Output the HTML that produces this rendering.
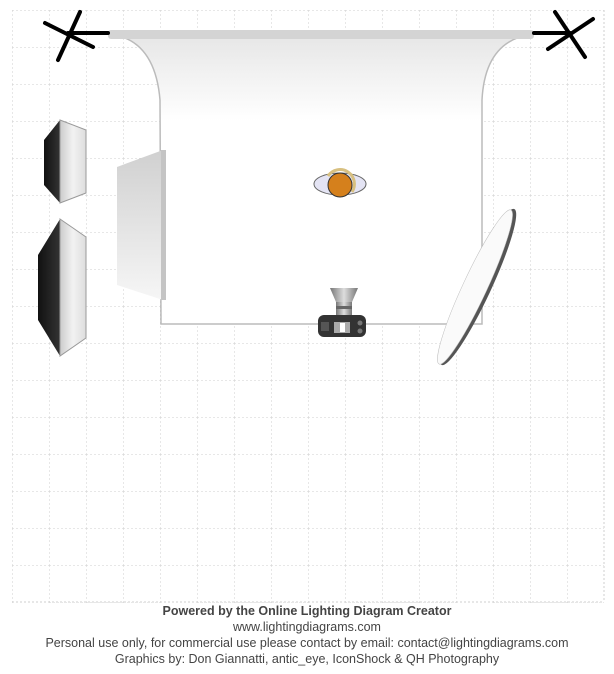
<!DOCTYPE html>
<html><head><style>
body{margin:0;background:#fff;width:614px;height:674px;overflow:hidden;font-family:"Liberation Sans",Arial,sans-serif}
.t{position:absolute;left:0;width:614px;text-align:center;font-size:12.5px;color:#444;line-height:16px}
</style></head><body>
<svg width="614" height="674" style="position:absolute;left:0;top:0">
<defs>
<pattern id="g" x="12" y="10" width="37" height="37" patternUnits="userSpaceOnUse">
<path d="M0 0V37M0 0H37" stroke="#cfcfcf" stroke-width="1" stroke-dasharray="2,2" fill="none"/>
</pattern>
<linearGradient id="bd" x1="0" y1="0" x2="0" y2="1"><stop offset="0" stop-color="#e6e6e6"/><stop offset="0.3" stop-color="#fff"/></linearGradient>
<linearGradient id="sb" x1="0" y1="0" x2="1" y2="0"><stop offset="0" stop-color="#111"/><stop offset="1" stop-color="#333"/></linearGradient>
<linearGradient id="sf" x1="0" y1="0" x2="1" y2="0"><stop offset="0" stop-color="#ccc"/><stop offset="0.5" stop-color="#f2f2f2"/><stop offset="1" stop-color="#ddd"/></linearGradient>
<linearGradient id="pn" x1="0" y1="0" x2="0" y2="1"><stop offset="0" stop-color="#d0d0d0"/><stop offset="1" stop-color="#f6f6f6"/></linearGradient>
<linearGradient id="ln" x1="0" y1="0" x2="1" y2="0"><stop offset="0" stop-color="#777"/><stop offset="0.5" stop-color="#ddd"/><stop offset="1" stop-color="#777"/></linearGradient>
</defs>
<rect x="12" y="10" width="592" height="593" fill="url(#g)"/>
<path d="M12 602H604M604 10V602" stroke="#cfcfcf" stroke-dasharray="2,2"/>
<path d="M110 34 Q155 40 160 100 L161 324 L482 324 L482 100 Q485 40 533 34 Z" fill="url(#bd)"/>
<path d="M110 34 Q155 40 160 100 L161 324 L482 324 L482 100 Q485 40 533 34" fill="none" stroke="#bbb" stroke-width="1.5"/>
<rect x="108" y="30" width="426" height="9" rx="3" fill="#d4d4d4"/>
<g stroke="#000" stroke-width="4" stroke-linecap="round">
<line x1="68" y1="33" x2="108" y2="33"/><line x1="80" y1="12" x2="58" y2="60"/><line x1="45" y1="23" x2="93" y2="47"/>
<line x1="534" y1="33" x2="570" y2="33"/><line x1="555" y1="12" x2="585" y2="57"/><line x1="548" y1="49" x2="593" y2="19"/>
</g>
<polygon points="60,120 44,140 44,185 60,203" fill="url(#sb)"/>
<polygon points="60,120 86,130 86,193 60,203" fill="url(#sf)" stroke="#999"/>
<polygon points="60,219 38,255 38,320 60,356" fill="url(#sb)"/>
<polygon points="60,219 86,237 86,338 60,356" fill="url(#sf)" stroke="#999"/>
<polygon points="117,167 163,150 163,300 117,285" fill="url(#pn)"/>
<rect x="161" y="150" width="5" height="150" fill="#c4c4c4"/>
<ellipse cx="340" cy="184" rx="26" ry="11" fill="#e4e4f4" stroke="#666"/>
<path d="M328 176 A14 14 0 0 1 352 192" fill="none" stroke="#d8c080" stroke-width="3"/>
<circle cx="340" cy="185" r="12" fill="#d5801c" stroke="#333"/>
<polygon points="330,288 358,288 352,302 336,302" fill="url(#ln)"/>
<rect x="336" y="302" width="16" height="16" fill="url(#ln)"/>
<rect x="336" y="306" width="16" height="3" fill="#666"/>
<rect x="318" y="315" width="48" height="22" rx="6" fill="#333"/>
<rect x="334" y="322" width="16" height="11" fill="#aaa"/><rect x="340" y="323" width="5" height="9" fill="#fff"/>
<circle cx="360" cy="323" r="2.5" fill="#777"/><circle cx="360" cy="331" r="2.5" fill="#777"/>
<rect x="321" y="322" width="8" height="9" fill="#555"/>
<ellipse cx="478" cy="287" rx="13" ry="86" transform="rotate(25 478 287)" fill="#555"/>
<ellipse cx="475" cy="287" rx="12" ry="85" transform="rotate(25 475 287)" fill="#fafafa" stroke="#bbb" stroke-width="0.5"/>
</svg>
<div class="t" style="top:603px;font-weight:bold">Powered by the Online Lighting Diagram Creator</div>
<div class="t" style="top:619px">www.lightingdiagrams.com</div>
<div class="t" style="top:635px">Personal use only, for commercial use please contact by email: contact@lightingdiagrams.com</div>
<div class="t" style="top:651px">Graphics by: Don Giannatti, antic_eye, IconShock &amp; QH Photography</div>
</body></html>
